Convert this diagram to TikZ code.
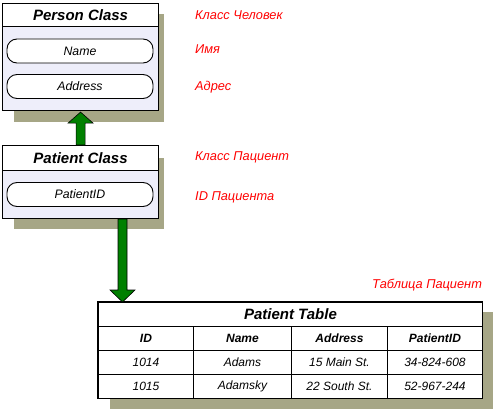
\documentclass[tikz,border=0pt]{standalone}
\usepackage{fontspec}
\setmainfont{Liberation Sans}
\usetikzlibrary{calc}
\definecolor{shadowc}{RGB}{166,166,134}
\definecolor{bodyc}{RGB}{238,238,250}
\definecolor{arrowc}{RGB}{0,128,0}
\definecolor{labelc}{RGB}{255,0,0}
\tikzset{
  x=1pt,y=1pt,
  boxbody/.style={draw=black,line width=1.1pt,fill=bodyc,anchor=north west,inner sep=0pt},
  boxhead/.style={draw=black,line width=1.1pt,fill=white,anchor=north west,inner sep=0pt,font=\fontsize{15}{17}\selectfont\bfseries\itshape},
  shadowbox/.style={fill=shadowc},
  pill/.style={draw=black,line width=0.9pt,fill=white,rounded corners=10pt,minimum width=146pt,minimum height=24pt,inner sep=0pt,font=\fontsize{12.3}{14}\selectfont\itshape},
  redlabel/.style={text=labelc,anchor=west,inner sep=0pt,font=\fontsize{12.8}{14}\selectfont\itshape},
  cell/.style={draw=black,line width=0.9pt,fill=white,inner sep=0pt,anchor=north west,font=\fontsize{12}{14}\selectfont\itshape},
  hcell/.style={cell,font=\fontsize{12}{14}\selectfont\bfseries\itshape},
  bigarrow/.style={fill=arrowc,draw=black,line width=0.6pt,line join=miter}
}
\begin{document}
\begin{tikzpicture}
\useasboundingbox (0,0) rectangle (497,413);
% shadows
\fill[shadowbox] (14,291) rectangle (164,399);
\fill[shadowbox] (14,184) rectangle (164,255);
\fill[shadowbox] (110,4) rectangle (493,101);
% Person class
\node[boxbody,minimum width=156pt,minimum height=107pt] (person) at (2,410) {};
\node[boxhead,minimum width=156pt,minimum height=23pt] (personhead) at (2,410) {Person Class};
\node[pill] (name) at (80,362) {Name};
\node[pill] (address) at (80,326.5) {Address};
% Patient class
\node[boxbody,minimum width=156pt,minimum height=73pt] (patient) at (2,268) {};
\node[boxhead,minimum width=156pt,minimum height=25pt] (patienthead) at (2,268) {Patient Class};
\node[pill] (pid) at (80,218.5) {PatientID};
% up arrow (inheritance)
\filldraw[bigarrow] ($(patient.north)+(-4.5pt,0)$) -- ($(person.south)+(-4.5pt,-12pt)$) -- ($(person.south)+(-12.5pt,-12pt)$) -- ($(person.south)+(0,-1pt)$) -- ($(person.south)+(12.5pt,-12pt)$) -- ($(person.south)+(4.5pt,-12pt)$) -- ($(patient.north)+(4.5pt,0)$) -- cycle;
% table
\node[hcell,minimum width=384pt,minimum height=24pt,font=\fontsize{15}{17}\selectfont\bfseries\itshape] (ttitle) at (98,111) {Patient Table};
\node[hcell,minimum width=95pt,minimum height=24pt] (hid) at (98,87) {ID};
\node[hcell,minimum width=98pt,minimum height=24pt] (hname) at (193,87) {Name};
\node[hcell,minimum width=96pt,minimum height=24pt] (haddr) at (291,87) {Address};
\node[hcell,minimum width=95pt,minimum height=24pt] (hpid) at (387,87) {PatientID};
\node[cell,minimum width=95pt,minimum height=24pt] (r1a) at (98,63) {1014};
\node[cell,minimum width=98pt,minimum height=24pt] (r1b) at (193,63) {Adams};
\node[cell,minimum width=96pt,minimum height=24pt] (r1c) at (291,63) {15 Main St.};
\node[cell,minimum width=95pt,minimum height=24pt] (r1d) at (387,63) {34-824-608};
\node[cell,minimum width=95pt,minimum height=24pt] (r2a) at (98,39) {1015};
\node[cell,minimum width=98pt,minimum height=24pt] (r2b) at (193,39) {Adamsky};
\node[cell,minimum width=96pt,minimum height=24pt] (r2c) at (291,39) {22 South St.};
\node[cell,minimum width=95pt,minimum height=24pt] (r2d) at (387,39) {52-967-244};
\draw[line width=1.1pt] (ttitle.north west) rectangle (r2d.south east);
% down arrow (mapping)
\coordinate (dstart) at ($(patient.south west)+(120.5pt,0)$);
\coordinate (dend) at (dstart |- ttitle.north);
\filldraw[bigarrow] ($(dstart)+(-4.5pt,0)$) -- ($(dend)+(-4.5pt,12pt)$) -- ($(dend)+(-12.5pt,12pt)$) -- (dend) -- ($(dend)+(12.5pt,12pt)$) -- ($(dend)+(4.5pt,12pt)$) -- ($(dstart)+(4.5pt,0)$) -- cycle;
% red labels
\node[redlabel] (lperson) at (195,398) {Класс Человек};
\node[redlabel] (lname) at (195,364) {Имя};
\node[redlabel] (laddr) at (195,326) {Адрес};
\node[redlabel] (lpatient) at (195,256) {Класс Пациент};
\node[redlabel] (lpid) at (195,216) {ID Пациента};
\node[redlabel] (ltable) at (372,128) {Таблица Пациент};
\end{tikzpicture}
\end{document}
